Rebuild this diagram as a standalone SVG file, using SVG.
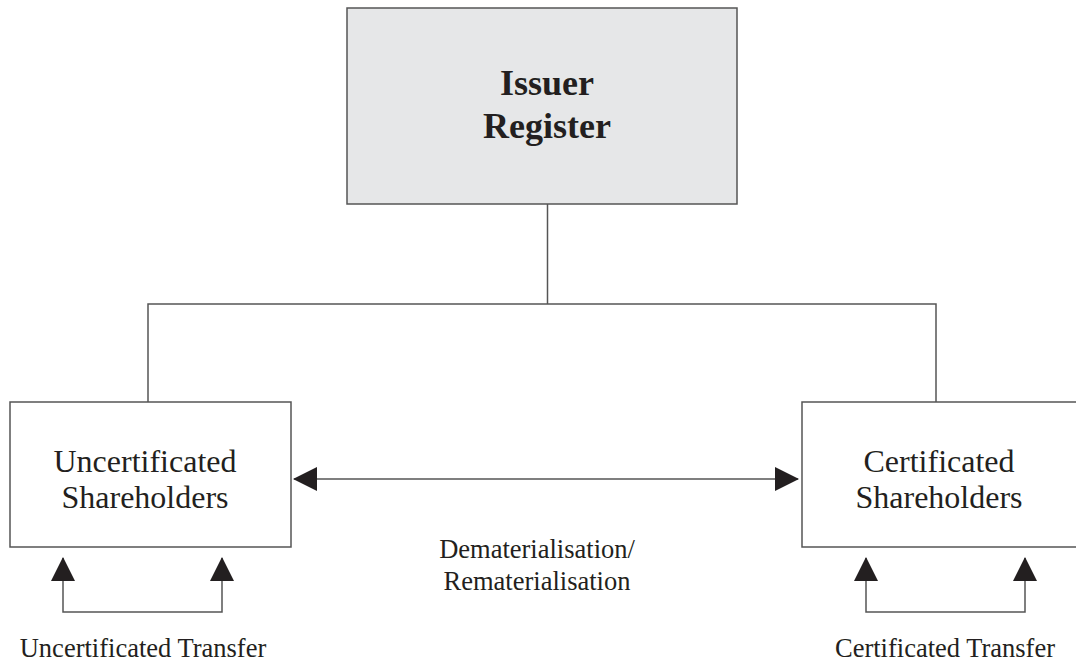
<svg xmlns="http://www.w3.org/2000/svg" width="1076" height="665" viewBox="0 0 1076 665">
<defs>
<style>
.box{fill:#fff;stroke:#555;stroke-width:1.5}
.top{fill:#e6e7e8;stroke:#555;stroke-width:1.5}
.ln{fill:none;stroke:#555;stroke-width:1.5}
.t{font-family:"Liberation Serif","Times New Roman",serif;fill:#231f20;text-anchor:middle}
.big{font-size:36px;font-weight:bold}
.mid{font-size:32px}
.sm{font-size:26.5px}
</style>
<marker id="ah" viewBox="0 0 24 24" refX="23" refY="12" markerWidth="24" markerHeight="24" markerUnits="userSpaceOnUse" orient="auto-start-reverse">
<path d="M0,0 L24,12 L0,24 Z" fill="#231f20"/>
</marker>
</defs>
<rect width="1076" height="665" fill="#fff"/>
<g id="connectors">
<polyline class="ln" points="547.5,204 547.5,304"/>
<polyline class="ln" points="148,402 148,304 936,304 936,402"/>
<line class="ln" x1="294" y1="479" x2="798" y2="479" marker-start="url(#ah)" marker-end="url(#ah)"/>
<polyline class="ln" points="63,558 63,612 222,612 222,558" marker-start="url(#ah)" marker-end="url(#ah)"/>
<polyline class="ln" points="866,558 866,612 1025,612 1025,558" marker-start="url(#ah)" marker-end="url(#ah)"/>
</g>
<g id="issuer">
<rect class="top" x="347" y="8" width="390" height="196"/>
<text class="t big" x="547" y="95">Issuer</text>
<text class="t big" x="547" y="138">Register</text>
</g>
<g id="uncert">
<rect class="box" x="10" y="402" width="281" height="145"/>
<text class="t mid" x="145" y="472">Uncertificated</text>
<text class="t mid" x="145" y="508">Shareholders</text>
</g>
<g id="cert">
<rect class="box" x="802" y="402" width="290" height="145"/>
<text class="t mid" x="939" y="472">Certificated</text>
<text class="t mid" x="939" y="508">Shareholders</text>
</g>
<g id="demat">
<text class="t sm" x="537" y="558">Dematerialisation/</text>
<text class="t sm" x="537" y="590">Rematerialisation</text>
</g>
<g id="uncert-transfer">
<text class="t sm" x="143" y="657">Uncertificated Transfer</text>
</g>
<g id="cert-transfer">
<text class="t sm" x="945" y="657">Certificated Transfer</text>
</g>
</svg>
